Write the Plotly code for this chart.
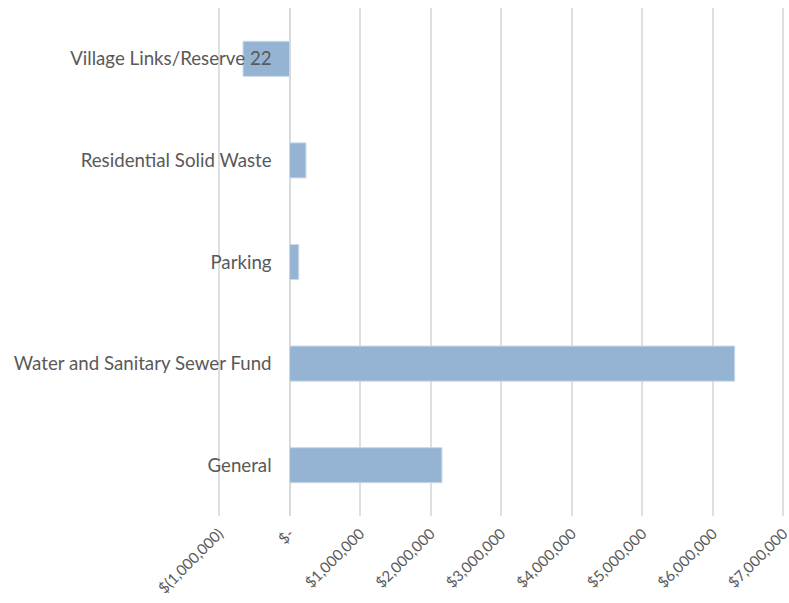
import plotly.graph_objects as go

# Fund categories (bottom to top) and their balances in dollars
categories = ["General", "Water and Sanitary Sewer Fund", "Parking",
              "Residential Solid Waste", "Village Links/Reserve 22"]
balances = [2160000, 6310000, 130000, 232000, -660000]

tick_values = [-1000000, 0, 1000000, 2000000, 3000000, 4000000, 5000000, 6000000, 7000000]
tick_labels = ["$(1,000,000)", "$-", "$1,000,000", "$2,000,000", "$3,000,000",
               "$4,000,000", "$5,000,000", "$6,000,000", "$7,000,000"]

# padding on both ends so the outer gridlines and the rotated $7M label fit
x_min, x_max = -1100000, 7080000
zero_pos = (0 - x_min) / (x_max - x_min)

fig = go.Figure(
    go.Bar(
        x=balances,
        y=categories,
        orientation="h",
        marker=dict(color="#95b3d2", line=dict(color="#c9d9ea", width=1)),
        hoverinfo="x+y",
    )
)

fig.update_layout(
    width=789,
    height=603,
    margin=dict(l=212, r=0, t=8, b=87),
    paper_bgcolor="white",
    plot_bgcolor="white",
    bargap=0.655,
    showlegend=False,
    font=dict(family="Lato, sans-serif", color="#595959"),
    xaxis=dict(
        range=[x_min, x_max],
        tickvals=tick_values,
        ticktext=tick_labels,
        tickangle=-45,
        tickfont=dict(size=15, color="#595959"),
        showgrid=True,
        gridcolor="#dfdfdf",
        gridwidth=2,
        zeroline=True,
        zerolinecolor="#d9d9d9",
        zerolinewidth=2,
        showline=False,
        ticks="",
        ticklabelstandoff=5,
        ticklabeloverflow="allow",
        automargin=False,
        fixedrange=True,
    ),
    yaxis=dict(
        anchor="free",
        position=zero_pos,
        showgrid=False,
        zeroline=False,
        showline=False,
        ticks="",
        ticklabelstandoff=18,
        tickfont=dict(size=18.7, color="#595959"),
        automargin=False,
        fixedrange=True,
    ),
)

fig.write_html("out.html")
